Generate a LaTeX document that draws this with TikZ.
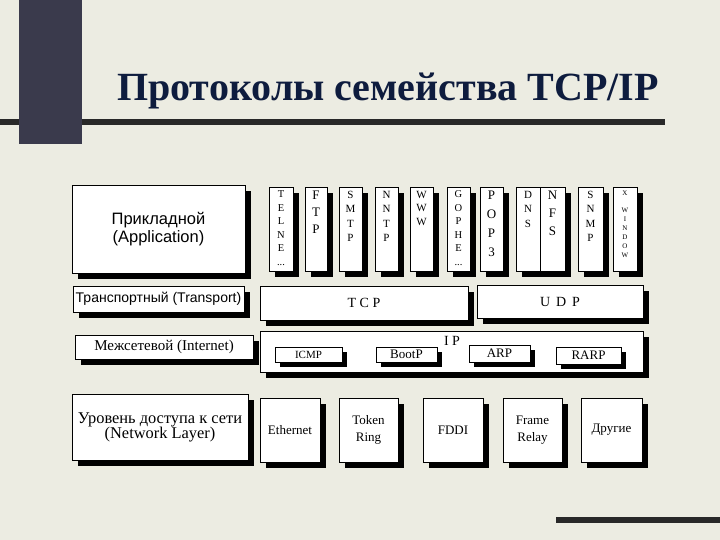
\documentclass[tikz,border=0pt]{standalone}
\usepackage{fontspec}
\setmainfont{Liberation Serif}
\newfontfamily\arialfont{Liberation Sans}
\usetikzlibrary{shadows}

\definecolor{slidebg}{RGB}{236,236,226}
\definecolor{barcol}{RGB}{58,58,76}
\definecolor{titlecol}{RGB}{14,28,62}
\definecolor{rulecol}{RGB}{40,40,40}

\tikzset{
  layer/.style={draw, fill=white, line width=0.8pt, inner sep=0pt,
    drop shadow={shadow xshift=6pt, shadow yshift=-6pt, fill=black, opacity=1}},
  subbox/.style={draw, fill=white, line width=0.8pt, inner sep=0pt,
    drop shadow={shadow xshift=5pt, shadow yshift=-5pt, fill=black, opacity=1}},
  appcol/.style={layer, minimum height=84pt},
  collabel/.style={anchor=north, align=center, inner sep=0pt, yshift=-4pt},
  phys/.style={layer, minimum height=64pt, align=center, font=\fontsize{13}{17}\selectfont}
}

\begin{document}
\begin{tikzpicture}[x=1pt, y=-1pt]
\useasboundingbox (0,0) rectangle (720,540);
\fill[slidebg] (0,0) rectangle (720,540);
\fill[rulecol] (0,119) rectangle (665,125);
\fill[barcol] (19,0) rectangle (82,144);
\fill[rulecol] (556,517) rectangle (720,523);
\node[text=titlecol, font=\bfseries\fontsize{40}{44}\selectfont] (title) at (388,91) {Протоколы семейства TCP/IP};

% layer names
\node[layer, minimum width=173pt, minimum height=88pt, align=center, font=\arialfont\fontsize{16.5}{18}\selectfont] (app) at (158.5,229) {Прикладной\\(Application)};
\node[layer, minimum width=171pt, minimum height=26pt, font=\arialfont\fontsize{14}{15}\selectfont] (transport) at (158.5,299) {Транспортный (Transport)};
\node[layer, minimum width=178pt, minimum height=24pt, font=\fontsize{15}{16}\selectfont] (internet) at (164,347) {Межсетевой (Internet)};
\node[layer, minimum width=176pt, minimum height=66pt, align=center, font=\fontsize{16.4}{15}\selectfont] (network) at (160,427) {Уровень доступа к сети\\(Network Layer)};

% application protocols
\node[appcol, minimum width=24pt, label={[collabel, font=\fontsize{10.5}{13.5}\selectfont]north:T\\E\\L\\N\\E\\...}] (telnet) at (281,229) {};
\node[appcol, minimum width=22pt, label={[collabel, font=\fontsize{13}{17}\selectfont]north:F\\T\\P}] (ftp) at (316,229) {};
\node[appcol, minimum width=23pt, label={[collabel, font=\fontsize{11}{14.5}\selectfont]north:S\\M\\T\\P}] (smtp) at (350.5,229) {};
\node[appcol, minimum width=23pt, label={[collabel, font=\fontsize{11}{14.5}\selectfont]north:N\\N\\T\\P}] (nntp) at (386.5,229) {};
\node[appcol, minimum width=23pt, label={[collabel, font=\fontsize{11}{13.5}\selectfont]north:W\\W\\W}] (www) at (421.5,229) {};
\node[appcol, minimum width=23pt, label={[collabel, font=\fontsize{10.5}{13.5}\selectfont]north:G\\O\\P\\H\\E\\...}] (gopher) at (458.5,229) {};
\node[appcol, minimum width=23pt, label={[collabel, font=\fontsize{13}{19}\selectfont]north:P\\O\\P\\3}] (pop) at (491.5,229) {};
\node[appcol, minimum width=24pt, label={[collabel, font=\fontsize{11}{14.5}\selectfont]north:D\\N\\S}] (dns) at (528,229) {};
\node[appcol, minimum width=25pt, label={[collabel, font=\fontsize{13}{18}\selectfont]north:N\\F\\S}] (nfs) at (552.5,229) {};
\node[appcol, minimum width=25pt, label={[collabel, font=\fontsize{11}{14.5}\selectfont]north:S\\N\\M\\P}] (snmp) at (590.5,229) {};
\node[appcol, minimum width=24pt, label={[collabel, font=\fontsize{7}{9}\selectfont]north:X\\[8pt]W\\I\\N\\D\\O\\W}] (xwin) at (625,229) {};

% transport and internet
\node[layer, minimum width=208pt, minimum height=34pt, font=\fontsize{14}{16}\selectfont] (tcp) at (364,303) {T C P};
\node[layer, minimum width=166pt, minimum height=33pt, font=\fontsize{14}{16}\selectfont] (udp) at (560,301.5) {U\,\ D\,\ P};
\node[layer, minimum width=383pt, minimum height=41pt] (ip) at (451.5,351.5) {};
\node[font=\fontsize{14}{16}\selectfont, inner sep=0pt] (iplabel) at (452,341) {I P};
\node[subbox, minimum width=67pt, minimum height=15pt, font=\fontsize{11}{12}\selectfont] (icmp) at (308.5,354.5) {ICMP};
\node[subbox, minimum width=61pt, minimum height=15pt, font=\fontsize{13}{14}\selectfont] (bootp) at (406.5,354.5) {BootP};
\node[subbox, minimum width=61pt, minimum height=17pt, font=\fontsize{13}{14}\selectfont] (arp) at (499.5,353.5) {ARP};
\node[subbox, minimum width=65pt, minimum height=17pt, font=\fontsize{13}{14}\selectfont] (rarp) at (588.5,355.5) {RARP};

% network access
\node[phys, minimum width=60pt] (ethernet) at (290,430) {Ethernet};
\node[phys, minimum width=59pt] (token) at (368.5,430) {Token\\Ring};
\node[phys, minimum width=60pt] (fddi) at (453,430) {FDDI};
\node[phys, minimum width=59pt] (frame) at (532.5,430) {Frame\\Relay};
\node[phys, minimum width=61pt] (other) at (611.5,430) {Другие};
\end{tikzpicture}
\end{document}
